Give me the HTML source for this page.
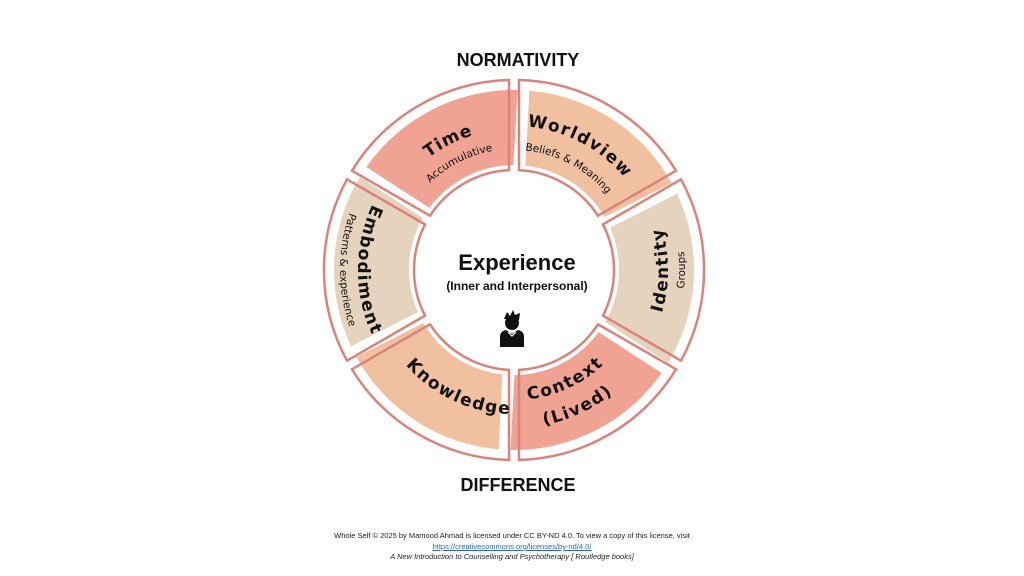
<!DOCTYPE html>
<html><head><meta charset="utf-8"><style>
html,body{margin:0;padding:0;background:#fff;}
body{width:1024px;height:576px;overflow:hidden;position:relative;font-family:"Liberation Sans",sans-serif;}
.ft{position:absolute;left:0;width:1024px;text-align:center;font-size:7.5px;color:#222;font-family:"Liberation Sans",sans-serif;}
</style></head><body>
<svg width="1024" height="576" viewBox="0 0 1024 576" xmlns="http://www.w3.org/2000/svg" style="position:absolute;left:0;top:0">
<defs>
<path id="fs" d="M -84.8 -158.8 A 180 180 0 0 1 84.8 -158.8 L 47.2 -93.8 A 105 105 0 0 0 -47.2 -93.8 Z"/>
<path id="os" d="M -90.7 -167 A 190 190 0 0 1 90.7 -167 L 45.6 -89 A 100 100 0 0 0 -45.6 -89 Z"/>
<path id="t141" d="M -90.6 -108 A 141 141 0 0 1 90.6 -108"/>
<path id="t121" d="M -77.8 -92.7 A 121 121 0 0 1 77.8 -92.7"/>
<path id="t144" d="M -92.6 -110.3 A 144 144 0 0 1 92.6 -110.3"/>
<path id="t120" d="M -77.1 -91.9 A 120 120 0 0 1 77.1 -91.9"/>
<path id="b144" d="M -92.6 110.3 A 144 144 0 0 0 92.6 110.3"/>
<path id="b130" d="M -83.6 99.6 A 130 130 0 0 0 83.6 99.6"/>
<path id="b158" d="M -101.6 121 A 158 158 0 0 0 101.6 121"/>
<path id="b154" d="M -99 118 A 154 154 0 0 0 99 118"/>
<path id="b171" d="M -109.9 131 A 171 171 0 0 0 109.9 131"/>
<path id="b156" d="M -100.3 119.5 A 156 156 0 0 0 100.3 119.5"/>
<path id="b174" d="M -111.8 133.3 A 174 174 0 0 0 111.8 133.3"/>
</defs>
<g transform="translate(514,270)">
<use href="#fs" transform="rotate(-27)" fill="#f0a392"/>
<use href="#fs" transform="rotate(33)" fill="#f0c0a0"/>
<use href="#fs" transform="rotate(93)" fill="#e6d3bd"/>
<use href="#fs" transform="rotate(153)" fill="#f0a392"/>
<use href="#fs" transform="rotate(213)" fill="#f0c0a0"/>
<use href="#fs" transform="rotate(273)" fill="#e6d3bd"/>
<g fill="none" stroke="#d9837c" stroke-width="2.5">
<use href="#os" transform="rotate(-30)"/>
<use href="#os" transform="rotate(30)"/>
<use href="#os" transform="rotate(90)"/>
<use href="#os" transform="rotate(150)"/>
<use href="#os" transform="rotate(210)"/>
<use href="#os" transform="rotate(270)"/>
</g>
<g font-family="'DejaVu Sans',sans-serif" fill="#111" text-anchor="middle">
<g transform="rotate(-27)">
<text font-size="17" font-weight="bold" letter-spacing="1"><textPath href="#t141" startOffset="50%">Time</textPath></text>
<text font-size="10.5"><textPath href="#t121" startOffset="50%">Accumulative</textPath></text>
</g>
<g transform="rotate(28)">
<text font-size="17" font-weight="bold" letter-spacing="1.5"><textPath href="#t144" startOffset="50%">Worldview</textPath></text>
<text font-size="10.5"><textPath href="#t120" startOffset="50%">Beliefs &amp; Meaning</textPath></text>
</g>
<g transform="rotate(-90)">
<text font-size="17" font-weight="bold" letter-spacing="1.5"><textPath href="#b154" startOffset="50%">Identity</textPath></text>
<text font-size="10.5"><textPath href="#b171" startOffset="50%">Groups</textPath></text>
</g>
<g transform="rotate(-25)">
<text font-size="17" font-weight="bold" letter-spacing="1.5"><textPath href="#b130" startOffset="50%">Context</textPath></text>
<text font-size="17" font-weight="bold" letter-spacing="1.5"><textPath href="#b158" startOffset="50%">(Lived)</textPath></text>
</g>
<g transform="rotate(25)">
<text font-size="17" font-weight="bold" letter-spacing="1.5"><textPath href="#b144" startOffset="50%">Knowledge</textPath></text>
</g>
<g transform="rotate(90)">
<text font-size="17" font-weight="bold" letter-spacing="1.5"><textPath href="#b156" startOffset="50%">Embodiment</textPath></text>
<text font-size="10.5"><textPath href="#b174" startOffset="50%">Patterns &amp; experience</textPath></text>
</g>
</g>
</g>
<g font-family="'Liberation Sans',sans-serif" font-weight="bold" fill="#111" text-anchor="middle">
<text x="518" y="66" font-size="18">NORMATIVITY</text>
<text x="518" y="491" font-size="18">DIFFERENCE</text>
<text x="517" y="270" font-size="22">Experience</text>
<text x="517" y="290" font-size="12">(Inner and Interpersonal)</text>
</g>
<g fill="#111">
<circle cx="512" cy="323" r="7"/>
<path d="M504 319 L507 312 L510 316 L513 310 L515 315 L520 313 L519 320 Z"/>
<path d="M500 347 L500 337 Q500 331 506 330 L512 334 L518 330 Q524 331 524 337 L524 347 Z"/>
</g>
<path d="M508 332 L512 336 L516 332" stroke="#fff" stroke-width="1.2" fill="none"/>
</svg>
<div class="ft" style="top:531px">Whole Self © 2025 by Mamood Ahmad is licensed under CC BY-ND 4.0. To view a copy of this license, visit</div>
<div class="ft" style="top:542px;color:#2b6aa8;text-decoration:underline">https://creativecommons.org/licenses/by-nd/4.0/</div>
<div class="ft" style="top:552px;font-style:italic">A New Introduction to Counselling and Psychotherapy [ Routledge books]</div>
</body></html>
